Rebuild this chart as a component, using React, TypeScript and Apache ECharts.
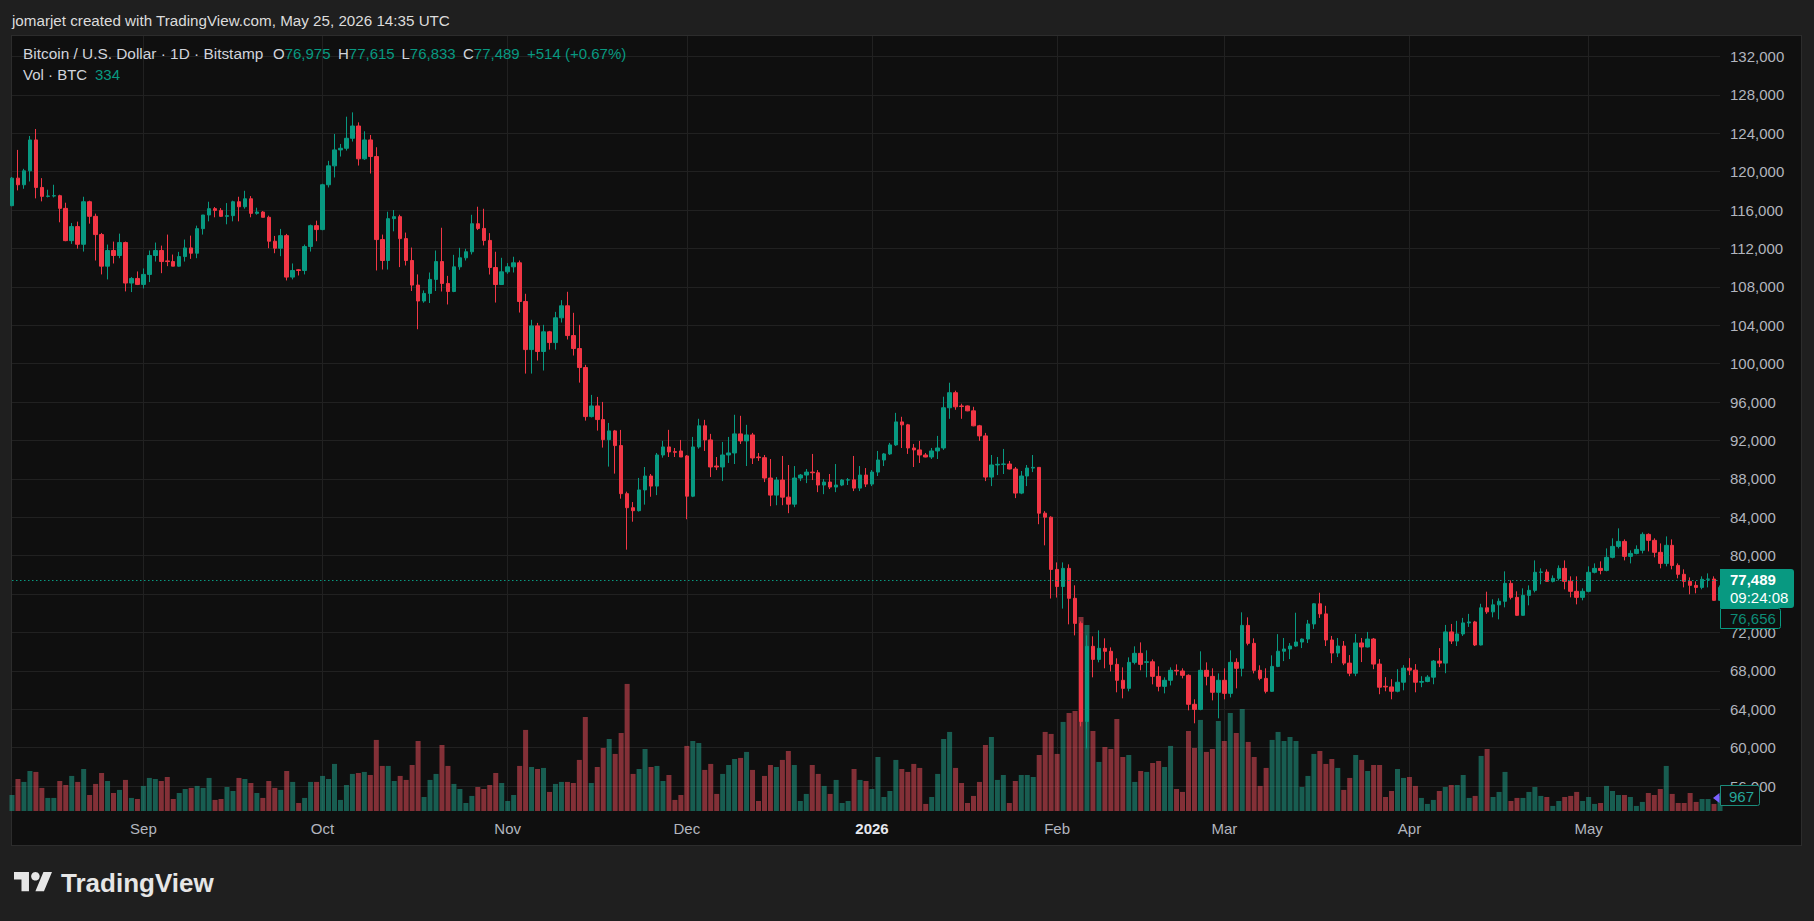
import React, { useEffect, useRef } from "react";
import * as echarts from "echarts";

const FONT = '"Liberation Sans", Arial, Helvetica, sans-serif';
const UP = "#089981";
const DOWN = "#f23645";
const VOL_UP = "rgba(34,171,148,0.5)";
const VOL_DOWN = "rgba(247,82,95,0.5)";
const GRID_LINE = "#212121";
const AXIS_TEXT = "#b2b5be";

const START_DATE = [2025, 7, 10]; // 10 Aug 2025 (month is 0-based)
const MONTH_NAMES = ["Jan", "Feb", "Mar", "Apr", "May", "Jun", "Jul", "Aug", "Sep", "Oct", "Nov", "Dec"];

// Daily candles: [open, high, low, close]
const AUG_2025 = [
  [116460, 119450, 116400, 119330], [119330, 122270, 118050, 118640], [118640, 120300, 118220, 120090],
  [120090, 123720, 118980, 123310], [123310, 124450, 117220, 118360], [118360, 119330, 116910, 117430],
  [117430, 118120, 117320, 117470], [117470, 118640, 117320, 117500], [117500, 117600, 114730, 116180],
  [116180, 116770, 112760, 112820], [112820, 114660, 112480, 114280], [114280, 114800, 111990, 112440],
  [112440, 117390, 111680, 116870], [116870, 116980, 114590, 115350], [115350, 115630, 110750, 113450],
  [113450, 113620, 109300, 110160], [110160, 112410, 108780, 111790], [111790, 112720, 110440, 111270],
  [111270, 113550, 110990, 112620], [112620, 112720, 107530, 108400], [108400, 109020, 107460, 108880],
  [108880, 109610, 108190, 108260],
];
const SEP_2025 = [
  [108260, 109920, 107840, 109300], [109300, 111790, 108500, 111270], [111270, 112620, 110640, 111790],
  [111790, 112300, 109430, 110640], [110710, 113450, 110160, 110640], [110640, 111370, 110160, 110160],
  [110160, 111650, 110100, 111160], [111160, 112930, 110640, 112060], [112060, 113340, 110920, 111510],
  [111510, 114380, 110990, 114070], [114070, 115490, 113450, 115490], [115490, 116870, 114830, 116150],
  [116150, 116320, 115250, 115970], [115970, 116210, 115280, 115350], [115350, 116730, 114520, 115420],
  [115420, 116980, 114830, 116870], [116870, 117390, 114830, 116350], [116350, 118010, 116150, 117180],
  [117180, 117460, 115250, 115660], [115660, 116250, 115520, 115800], [115800, 115900, 115250, 115250],
  [115250, 115420, 112030, 112760], [112760, 113310, 111510, 112030], [112030, 114040, 111200, 113340],
  [113340, 113520, 108670, 109020], [109020, 110440, 108780, 109710], [109780, 109850, 109190, 109710],
  [109710, 112410, 109300, 112200], [112200, 114490, 111680, 114380], [114380, 114900, 112760, 113970],
];
const OCT_2025 = [
  [113970, 118740, 113900, 118640], [118640, 121130, 118360, 120610], [120610, 123930, 119400, 122270],
  [122270, 122890, 121580, 122440], [122440, 125730, 122200, 123480], [123480, 126180, 123140, 124760],
  [124760, 125140, 120640, 121340], [121340, 124210, 121230, 123310], [123310, 123830, 119810, 121580],
  [121580, 122550, 109710, 112930], [112930, 113450, 109810, 110750], [110750, 115830, 109810, 115110],
  [115110, 116010, 113790, 115320], [115320, 115520, 110060, 113030], [113030, 113660, 110230, 110750],
  [110750, 112100, 107570, 108190], [108190, 109300, 103590, 106530], [106530, 107630, 106350, 107320],
  [107320, 109500, 106320, 108780], [108780, 111790, 107570, 110640], [110640, 114160, 107520, 108360],
  [108360, 109150, 106170, 107520], [107520, 111340, 107450, 110090], [110090, 112070, 109780, 111030],
  [111030, 111970, 110750, 111660], [111660, 115510, 111380, 114580], [114580, 116350, 113920, 114090],
  [114090, 116140, 112320, 112840], [112840, 113600, 109290, 110020], [110020, 111660, 106370, 108250],
  [108250, 111030, 108200, 109570],
];
const NOV_2025 = [
  [109570, 110480, 109360, 110090], [110090, 111140, 109500, 110510], [110510, 110750, 105330, 106480],
  [106480, 107280, 98970, 101470], [101470, 104570, 98970, 103940], [103940, 104250, 100330, 101270],
  [101270, 104050, 99290, 103320], [103320, 103420, 101470, 102200], [102200, 105400, 101470, 104780],
  [104780, 106620, 104290, 106030], [106030, 107490, 102520, 102930], [102930, 105300, 100850, 101580],
  [101580, 104050, 98030, 99600], [99600, 99880, 94070, 94490], [94490, 96750, 94400, 95600],
  [95600, 96540, 93030, 94180], [94180, 96020, 91260, 92090], [92090, 93830, 89280, 93000],
  [93000, 93100, 88550, 91470], [91470, 93100, 85940, 86460], [86460, 86670, 80630, 85000],
  [85000, 85590, 83540, 84690], [84690, 88100, 84600, 86850], [86850, 89240, 85320, 88300],
  [88300, 88510, 86140, 87250], [87250, 90700, 86310, 90490], [90490, 91960, 90210, 91330],
  [91330, 93110, 90280, 90810], [90840, 91220, 90280, 90770], [90910, 92060, 90280, 90280],
];
const DEC_2025 = [
  [90390, 90490, 83800, 86200], [86200, 92370, 86100, 91330], [91330, 94260, 91150, 93530],
  [93530, 94150, 90910, 92060], [92060, 92690, 88190, 89240], [89340, 90280, 88920, 89240],
  [89240, 91850, 87770, 90490], [90490, 92370, 89660, 90700], [90700, 94680, 89550, 92690],
  [92690, 94570, 91640, 91960], [91960, 93630, 89340, 92580], [92580, 92790, 89550, 90180],
  [90280, 90700, 89870, 90210], [90210, 90490, 87670, 88090], [88090, 90070, 85160, 86310],
  [86310, 88190, 85260, 87880], [87880, 90390, 85260, 86100], [86100, 89450, 84430, 85370],
  [85370, 89340, 85050, 88090], [88090, 88510, 87770, 88400], [88400, 89030, 87560, 88710],
  [88710, 90600, 87880, 88640], [88640, 88920, 86620, 87360], [87360, 87980, 86410, 87670],
  [87670, 88510, 86940, 87150], [87150, 89550, 86620, 87360], [87360, 87980, 87250, 87880],
  [87880, 88090, 87360, 87900], [87900, 90390, 86730, 87040], [87040, 89340, 86730, 88400],
  [88400, 89130, 87150, 87460],
];
const JAN_2026 = [
  [87460, 88920, 87250, 88710], [88710, 90910, 88300, 89970], [89970, 90700, 89340, 90600],
  [90600, 91750, 90490, 91540], [91540, 94880, 91430, 93940], [93940, 94470, 91220, 93630],
  [93630, 93730, 90600, 91220], [91220, 91640, 89240, 91020], [91020, 91960, 89660, 90490],
  [90490, 90700, 90250, 90280], [90280, 91220, 90070, 90910], [90910, 92480, 90070, 91220],
  [91220, 96560, 91020, 95410], [95410, 98020, 94260, 96980], [96980, 97190, 95200, 95510],
  [95600, 95830, 94260, 95540], [95600, 95650, 95050, 95090], [95090, 95510, 93480, 93530],
  [93530, 93630, 91960, 92480], [92480, 92790, 87770, 88190], [88190, 90490, 87250, 89450],
  [89450, 90280, 88400, 89520], [89520, 91120, 88510, 89550], [89550, 89870, 88990, 89030],
  [89030, 89240, 86000, 86520], [86520, 88820, 86410, 88300], [88300, 89450, 87250, 89130],
  [89130, 90490, 88710, 89200], [89200, 89240, 83280, 84430], [84430, 84640, 81080, 84010],
  [84010, 84110, 75540, 78570],
];
const FEB_2026 = [
  [78570, 79300, 75640, 76790], [76790, 79300, 74490, 78680], [78680, 79100, 72850, 75560],
  [75560, 76910, 71700, 72950], [72950, 73160, 62220, 62740], [62740, 71700, 59930, 70560],
  [70560, 71600, 67330, 69200], [69200, 72220, 68890, 70350], [70350, 71390, 68270, 70040],
  [70040, 70450, 67950, 68680], [68680, 69310, 65770, 67020], [67020, 68370, 65140, 66180],
  [66180, 69410, 65870, 68890], [68890, 70560, 68680, 69830], [69830, 70970, 68060, 68680],
  [68890, 70140, 67330, 68950], [68950, 69200, 66600, 67430], [67430, 68470, 65870, 66390],
  [66390, 67330, 65660, 67020], [67020, 68370, 66490, 68060], [68060, 68680, 67540, 67990],
  [67990, 68270, 67220, 67540], [67540, 67640, 63890, 64520], [64520, 65040, 62540, 63990],
  [63990, 70040, 63900, 68060], [68060, 68890, 66490, 67430], [67430, 68270, 64930, 65770],
  [65770, 67740, 63060, 67020],
];
const MAR_2026 = [
  [67020, 68270, 65040, 65660], [65660, 70140, 65240, 68890], [68890, 69310, 66180, 68270],
  [68270, 74100, 67430, 72740], [72740, 73580, 70660, 70870], [70870, 71390, 67740, 68060],
  [68060, 68580, 67020, 67220], [67220, 68270, 65660, 65870], [65870, 69620, 65800, 68470],
  [68470, 71830, 68390, 70050], [70050, 71430, 69020, 70280], [70280, 70900, 69230, 70590],
  [70590, 74060, 70500, 71010], [71010, 71380, 70380, 71320], [71320, 73310, 70900, 72890],
  [72890, 75050, 72370, 74990], [74990, 76140, 73520, 73940], [73940, 74780, 70590, 71220],
  [71220, 71640, 68810, 69860], [69860, 71430, 69440, 70590], [70590, 71110, 68600, 68810],
  [68810, 69650, 67450, 67760], [67760, 71850, 67450, 70910], [70910, 71430, 68920, 70490],
  [70490, 72060, 70440, 71320], [71320, 71430, 68180, 68710], [68710, 69230, 65570, 66300],
  [66400, 67350, 65880, 66330], [66330, 67140, 65040, 65880], [65880, 68180, 65770, 66820],
  [66820, 68600, 65980, 68290],
];
const APR_2026 = [
  [68290, 69330, 67560, 68080], [68080, 68710, 65770, 66820], [66820, 67450, 66300, 66900],
  [66900, 67560, 66820, 67350], [67350, 69130, 66610, 69020], [69020, 70380, 68390, 68810],
  [68810, 72790, 67760, 72060], [72060, 72890, 70800, 71110], [71110, 73210, 70590, 71850],
  [71850, 73520, 71640, 73000], [73000, 73940, 72580, 73100], [73100, 73210, 70590, 70700],
  [70700, 74990, 70650, 74570], [74570, 76250, 73940, 74150], [74150, 75460, 73580, 74880],
  [74880, 75560, 73370, 75250], [75250, 78370, 74620, 77120], [77120, 77430, 75450, 75660],
  [75660, 76290, 73740, 73790], [73790, 76600, 73740, 75870], [75870, 76910, 74830, 76390],
  [76390, 79510, 76180, 78270], [78270, 78680, 77020, 78300], [78300, 78580, 77280, 77330],
  [77330, 77950, 77220, 77640], [77640, 78990, 77430, 78680], [78680, 79510, 76500, 77330],
  [77330, 77850, 75660, 76290], [76290, 77850, 74930, 75660], [75660, 76600, 75350, 76290],
];
const MAY_2026 = [
  [76290, 78890, 76180, 78270], [78270, 79200, 78160, 78680], [78680, 79410, 78060, 78470],
  [78470, 80760, 78370, 79830], [79830, 81810, 79720, 80970], [80970, 82850, 80760, 81490],
  [81490, 81700, 79510, 79930], [79930, 80560, 79200, 80240], [80240, 81080, 80140, 80660],
  [80560, 82430, 80240, 82220], [82220, 82330, 80450, 81600], [81600, 81810, 79830, 80350],
  [80350, 81280, 78680, 79200], [79200, 82010, 78890, 81080], [81080, 81700, 78580, 78990],
  [78990, 79200, 77640, 78060], [78060, 78580, 76700, 77330], [77330, 77740, 75980, 76910],
  [76910, 77330, 76080, 76700], [76700, 77850, 76500, 77540], [77540, 78160, 76700, 77570],
  [77570, 77850, 75300, 75350], [75350, 76900, 75300, 76700],
];

// Daily volume (BTC)
const VOL_AUG_2025 = [1040, 2080, 1890, 2600, 2540, 1500, 850, 850, 1950, 1690, 2280, 1890, 2730, 1040, 1760, 2470, 1950, 1170, 1370, 2020, 850, 780];
const VOL_SEP_2025 = [1630, 2150, 2080, 1950, 2210, 780, 1170, 1430, 1500, 1630, 1500, 2150, 720, 780, 1560, 1300, 2150, 2080, 1820, 1170, 850, 1950, 1500, 1370, 2600, 1890, 520, 850, 1890, 1890];
const VOL_OCT_2025 = [2280, 2080, 3060, 720, 1690, 2410, 2470, 2540, 2340, 4620, 2930, 2930, 1950, 2280, 2020, 2990, 4550, 910, 2020, 2410, 4290, 2930, 1760, 1430, 520, 980, 1560, 1430, 1690, 2470, 1820];
const VOL_NOV_2025 = [650, 1040, 2930, 5270, 2860, 2730, 2800, 1240, 1760, 1890, 1890, 1820, 3320, 6110, 1820, 2860, 4100, 4680, 3710, 5070, 8260, 2410, 2730, 4030, 2860, 2930, 1950, 2340, 720, 1040];
const VOL_DEC_2025 = [4230, 4550, 4420, 2670, 3060, 1110, 2410, 2990, 3380, 3450, 3840, 2670, 650, 2280, 2990, 2860, 3320, 3900, 2990, 650, 1110, 2990, 2410, 1630, 1110, 2020, 520, 650, 2730, 2020, 1950];
const VOL_JAN_2026 = [1430, 3510, 910, 1300, 3320, 2730, 2540, 3060, 2800, 460, 910, 2410, 4680, 5140, 2800, 1820, 520, 980, 1890, 4290, 4810, 2020, 2340, 520, 1950, 2340, 2340, 2210, 3640, 5140, 5010];
const VOL_FEB_2026 = [3710, 5790, 6370, 6500, 12610, 12090, 5200, 3190, 4160, 4030, 5980, 3510, 3640, 1890, 2600, 2540, 3120, 3250, 2860, 4230, 1430, 1240, 5200, 4100, 5920, 3840, 4030, 5850];
const VOL_MAR_2026 = [4550, 6370, 5070, 6630, 4490, 3510, 1630, 2800, 4620, 5140, 4550, 4810, 4550, 1560, 2280, 3710, 3900, 3060, 3380, 2800, 1370, 2150, 3640, 3320, 2600, 2990, 2990, 910, 1300, 2730, 2150];
const VOL_APR_2026 = [2210, 1630, 850, 460, 720, 1300, 1560, 1690, 1690, 2340, 850, 980, 3580, 4030, 910, 1240, 2540, 650, 850, 850, 1240, 1560, 980, 910, 330, 650, 910, 980, 1240, 650];
const VOL_MAY_2026 = [910, 460, 520, 1630, 1300, 1040, 1040, 910, 330, 590, 1170, 1040, 1430, 2930, 1110, 520, 520, 1170, 590, 780, 780, 460, 967];

const PRICE_MIN = 52000;
const PRICE_MAX = 136000;
const PRICE_STEP = 4000;
const VOLUME_MAX = 50375;

const HEADER_TEXT = "jomarjet created with TradingView.com, May 25, 2026 14:35 UTC";
const SYMBOL_TEXT = "Bitcoin / U.S. Dollar · 1D · Bitstamp";
const LEGEND_KEYS = ["O", "H", "L", "C"];
const LEGEND_VALUES = ["76,975", "77,615", "76,833", "77,489"];
const LEGEND_CHANGE = "+514 (+0.67%)";
const VOL_TITLE = "Vol · BTC";
const VOL_VALUE = "334";
const LAST_PRICE = 77489;
const LAST_PRICE_LABEL = "77,489";
const COUNTDOWN = "09:24:08";
const SECOND_LABEL = "76,656";
const VOLUME_LABEL = "967";

const TV_LOGO_PATH = "M14 22H7V11H0V4h14v18zM28 22h-8l7.5-18h8L28 22z";

const CANDLES = [
  ...AUG_2025, ...SEP_2025, ...OCT_2025, ...NOV_2025, ...DEC_2025,
  ...JAN_2026, ...FEB_2026, ...MAR_2026, ...APR_2026, ...MAY_2026,
];
const VOLUMES = [
  ...VOL_AUG_2025, ...VOL_SEP_2025, ...VOL_OCT_2025, ...VOL_NOV_2025, ...VOL_DEC_2025,
  ...VOL_JAN_2026, ...VOL_FEB_2026, ...VOL_MAR_2026, ...VOL_APR_2026, ...VOL_MAY_2026,
];

const DATES: string[] = CANDLES.map((_, i) => {
  const d = new Date(Date.UTC(START_DATE[0], START_DATE[1], START_DATE[2]) + i * 86400000);
  return d.toISOString().slice(0, 10);
});

const isMonthStart = (_i: number, v: string) => v.slice(8, 10) === "01";

// legend layout (x positions of each key+value group)
const LEGEND_X = [273, 338, 401.5, 463];
const LEGEND_CHANGE_X = 527;

export default function App() {
  const ref = useRef<HTMLDivElement>(null);

  useEffect(() => {
    if (!ref.current) return;
    echarts.graphic.registerShape("tvlogo", echarts.graphic.extendPath(TV_LOGO_PATH, {}) as any);
    const chart = echarts.init(ref.current, null, { renderer: "svg", width: 1814, height: 921 });

    const candleData = CANDLES.map(([o, h, l, c]) => [o, c, Math.min(l, o, c), Math.max(h, o, c)]);
    const volumeData = VOLUMES.map((v, i) => ({
      value: v,
      itemStyle: { color: CANDLES[i][3] >= CANDLES[i][0] ? VOL_UP : VOL_DOWN },
    }));

    const rich = {
      k: { fill: "#d1d4dc", fontSize: 15, fontFamily: FONT },
      v: { fill: UP, fontSize: 15, fontFamily: FONT },
    };

    const txt = (x: number, y: number, text: string, extra: any = {}) => ({
      type: "text",
      x,
      y,
      z: 100,
      style: {
        text,
        fill: "#d1d4dc",
        fontSize: 15,
        fontFamily: FONT,
        textVerticalAlign: "middle",
        ...extra,
      },
    });

    const legendEls: any[] = LEGEND_KEYS.map((k, i) =>
      txt(LEGEND_X[i], 53, `{k|${k}}{v|${LEGEND_VALUES[i]}}`, { rich })
    );
    legendEls.push(txt(LEGEND_CHANGE_X, 53, LEGEND_CHANGE, { fill: UP }));

    const option: any = {
      animation: false,
      backgroundColor: "transparent",
      textStyle: { fontFamily: FONT },
      grid: [
        { left: 12, right: 94, top: 18.1, bottom: 96.5 },
        { left: 12, right: 94, top: 36, bottom: 110 },
      ],
      xAxis: [
        {
          type: "category",
          gridIndex: 0,
          data: DATES,
          boundaryGap: false,
          show: false,
        },
        {
          type: "category",
          gridIndex: 1,
          data: DATES,
          boundaryGap: false,
          axisLine: { show: false },
          axisTick: { show: false },
          axisLabel: {
            interval: isMonthStart,
            margin: 8,
            color: AXIS_TEXT,
            fontSize: 15,
            fontFamily: FONT,
            lineHeight: 18,
            formatter: (v: string) => {
              const m = Number(v.slice(5, 7));
              return m === 1 ? `{y|${v.slice(0, 4)}}` : MONTH_NAMES[m - 1];
            },
            rich: {
              y: { color: "#e6e8ee", fontWeight: "bold", fontSize: 15, fontFamily: FONT, lineHeight: 18 },
            },
          },
          splitLine: { show: true, interval: isMonthStart, lineStyle: { color: GRID_LINE, width: 1 } },
        },
      ],
      yAxis: [
        {
          type: "value",
          gridIndex: 0,
          position: "right",
          min: PRICE_MIN,
          max: PRICE_MAX,
          interval: PRICE_STEP,
          axisLine: { show: false },
          axisTick: { show: false },
          axisLabel: {
            margin: 10,
            color: AXIS_TEXT,
            fontSize: 15,
            fontFamily: FONT,
            align: "left",
            showMinLabel: false,
            showMaxLabel: false,
            formatter: (v: number) => v.toLocaleString("en-US"),
          },
          splitLine: { show: true, showMinLine: false, showMaxLine: false, lineStyle: { color: GRID_LINE, width: 1 } },
        },
        {
          type: "value",
          gridIndex: 1,
          min: 0,
          max: VOLUME_MAX,
          show: false,
        },
      ],
      series: [
        {
          type: "bar",
          xAxisIndex: 1,
          yAxisIndex: 1,
          data: volumeData,
          barWidth: 5,
          silent: true,
        },
        {
          type: "candlestick",
          xAxisIndex: 0,
          yAxisIndex: 0,
          data: candleData,
          barWidth: 4,
          clip: false,
          itemStyle: {
            color: UP,
            color0: DOWN,
            borderColor: UP,
            borderColor0: DOWN,
            borderWidth: 1,
          },
          markLine: {
            silent: true,
            animation: false,
            symbol: ["none", "none"],
            label: { show: false },
            lineStyle: { color: UP, type: [1.5, 2.5], width: 1 },
            data: [{ yAxis: LAST_PRICE }],
          },
        },
      ],
      graphic: {
        elements: [
          txt(12, 20, HEADER_TEXT, { fill: "#dcdcdc", fontSize: 15.2 }),
          txt(23, 53, SYMBOL_TEXT, { fontSize: 15.4 }),
          ...legendEls,
          txt(23, 74, VOL_TITLE),
          txt(95, 74, VOL_VALUE, { fill: UP }),
          // last price label
          {
            type: "rect",
            z: 100,
            shape: { x: 1720, y: 569, width: 74, height: 39, r: [0, 3, 3, 0] },
            style: { fill: UP },
          },
          txt(1730, 579.5, LAST_PRICE_LABEL, { fill: "#ffffff", fontWeight: "bold" }),
          txt(1730, 597, COUNTDOWN, { fill: "#ffffff" }),
          {
            type: "rect",
            z: 100,
            shape: { x: 1720.5, y: 608.5, width: 60, height: 20, r: [0, 2, 2, 0] },
            style: { fill: "#0f0f0f", stroke: UP, lineWidth: 1 },
          },
          txt(1730, 618.5, SECOND_LABEL, { fill: "#0e8c77" }),
          {
            type: "rect",
            z: 100,
            shape: { x: 1720.5, y: 785.5, width: 39, height: 20, r: [0, 2, 2, 0] },
            style: { fill: "#0f0f0f", stroke: "#1c8c7b", lineWidth: 1 },
          },
          txt(1729, 796, VOLUME_LABEL, { fill: "#26a69a" }),
          {
            type: "polygon",
            z: 100,
            shape: { points: [[1713, 798], [1719.5, 793], [1719.5, 803]] },
            style: { fill: "#7b61ff" },
          },
          // TradingView logo
          {
            type: "tvlogo",
            z: 100,
            x: 14,
            y: 867.7,
            scaleX: 1.07,
            scaleY: 1.07,
            style: { fill: "#e6e6e6" },
          },
          {
            type: "circle",
            z: 100,
            shape: { cx: 35.4, cy: 876.3, r: 4.28 },
            style: { fill: "#e6e6e6" },
          },
          txt(61, 883, "TradingView", { fill: "#e6e6e6", fontSize: 26, fontWeight: "bold" }),
        ],
      },
    };

    chart.setOption(option);
    return () => chart.dispose();
  }, []);

  return (
    <div style={{ position: "fixed", left: 0, top: 0, width: 1814, height: 921, background: "#1f1f1f" }}>
      <div
        style={{
          position: "absolute",
          left: 11,
          top: 35,
          width: 1791,
          height: 811,
          boxSizing: "border-box",
          background: "#0f0f0f",
          border: "1px solid #2c2c2c",
        }}
      />
      <div ref={ref} style={{ position: "absolute", left: 0, top: 0, width: 1814, height: 921 }} />
    </div>
  );
}
